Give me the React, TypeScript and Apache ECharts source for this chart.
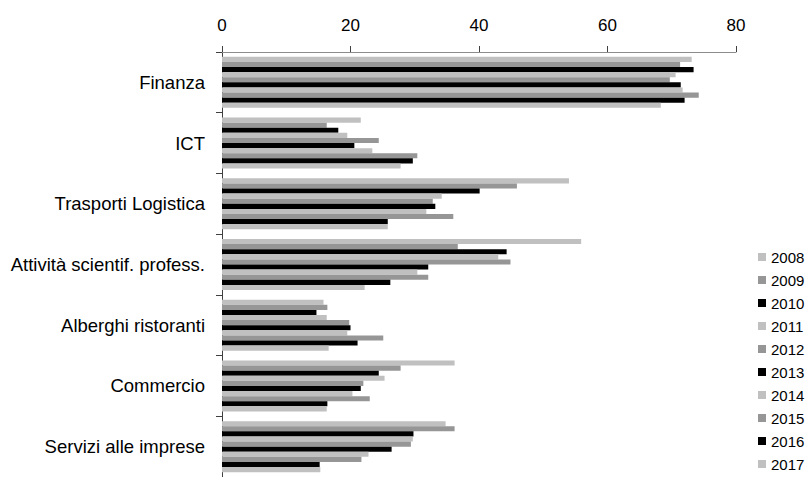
import React, { useEffect, useRef } from "react";
import * as echarts from "echarts";

const categories = [
  "Finanza",
  "ICT",
  "Trasporti Logistica",
  "Attività scientif. profess.",
  "Alberghi ristoranti",
  "Commercio",
  "Servizi alle imprese",
];

const years = ["2008", "2009", "2010", "2011", "2012", "2013", "2014", "2015", "2016", "2017"];

// values per year, in category order
const v2008 = [73.1, 21.6, 54.0, 55.9, 15.8, 36.2, 34.8];
const v2009 = [71.3, 16.3, 45.9, 36.7, 16.4, 27.8, 36.2];
const v2010 = [73.4, 18.1, 40.1, 44.3, 14.7, 24.4, 29.8];
const v2011 = [70.6, 19.5, 34.2, 43.0, 16.3, 25.3, 29.7];
const v2012 = [69.7, 24.4, 32.8, 44.9, 19.8, 22.0, 29.4];
const v2013 = [71.4, 20.6, 33.2, 32.1, 20.0, 21.6, 26.4];
const v2014 = [71.7, 23.4, 31.8, 30.4, 19.5, 20.3, 22.8];
const v2015 = [74.2, 30.4, 36.0, 32.1, 25.1, 23.0, 21.7];
const v2016 = [72.0, 29.7, 25.8, 26.2, 21.1, 16.4, 15.2];
const v2017 = [68.3, 27.8, 25.8, 22.2, 16.6, 16.3, 15.3];

const seriesValues = [v2008, v2009, v2010, v2011, v2012, v2013, v2014, v2015, v2016, v2017];
const palette = ["#c0c0c0", "#969696", "#000000"];

const xTicks = { min: 0, max: 80, interval: 20 };

export default function App() {
  const ref = useRef<HTMLDivElement>(null);
  useEffect(() => {
    if (!ref.current) return;
    const chart = echarts.init(ref.current, undefined, { renderer: "svg" });
    const font = "'Liberation Sans', Arial, sans-serif";
    chart.setOption({
      animation: false,
      backgroundColor: "#ffffff",
      textStyle: { fontFamily: font },
      grid: { left: 222, top: 52, width: 514, height: 430, containLabel: false },
      legend: {
        orient: "vertical",
        left: 758,
        top: 249,
        padding: 0,
        itemWidth: 8,
        itemHeight: 8,
        itemGap: 7,
        icon: "rect",
        data: years,
        textStyle: { fontFamily: font, fontSize: 15, color: "#000", lineHeight: 16 },
      },
      xAxis: {
        type: "value",
        position: "top",
        min: xTicks.min,
        max: xTicks.max,
        interval: xTicks.interval,
        axisLine: { show: true, lineStyle: { color: "#8c8c8c", width: 1 } },
        axisTick: { show: true, length: 6, lineStyle: { color: "#404040" } },
        axisLabel: { fontFamily: font, fontSize: 17, color: "#000", margin: 18 },
        splitLine: { show: false },
      },
      yAxis: {
        type: "category",
        inverse: true,
        data: categories,
        axisLine: { show: true, lineStyle: { color: "#404040", width: 1 } },
        axisTick: { show: true, length: 6, lineStyle: { color: "#404040" } },
        axisLabel: { fontFamily: font, fontSize: 18.5, color: "#000", margin: 17 },
      },
      series: years.map((y, i) => ({
        name: y,
        type: "bar",
        data: seriesValues[i],
        barGap: "0%",
        barCategoryGap: "16%",
        itemStyle: { color: palette[i % 3] },
      })),
    });
    return () => chart.dispose();
  }, []);
  return (
    <div
      ref={ref}
      style={{ position: "fixed", left: 0, top: 0, width: 809, height: 477 }}
    />
  );
}
